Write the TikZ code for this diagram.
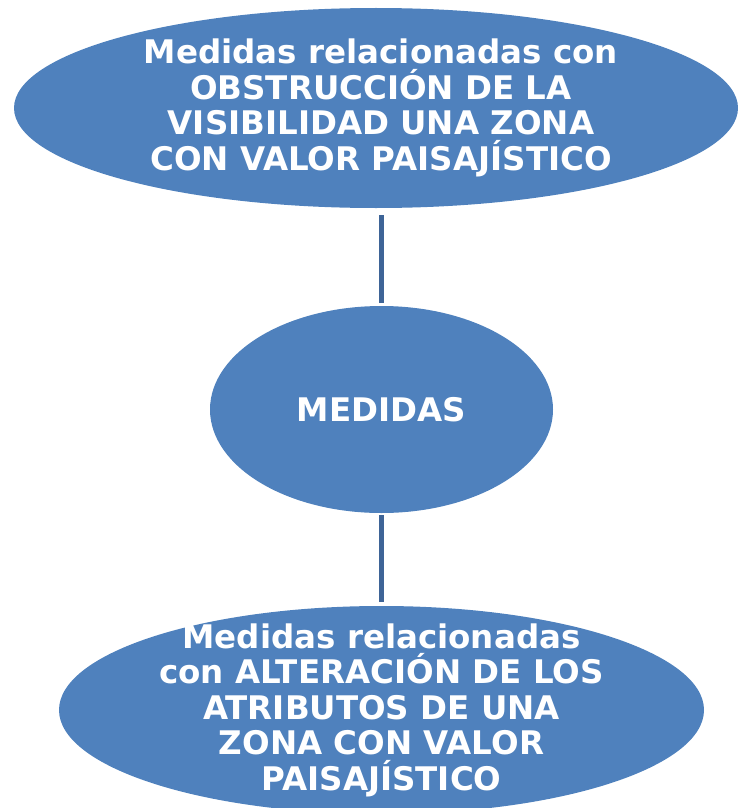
\documentclass[tikz,border=0pt]{standalone}
\usepackage{fontspec}
\setmainfont{DejaVu Sans}
\usetikzlibrary{shapes.geometric}
\definecolor{ovalfill}{HTML}{4F81BD}
\definecolor{linkcol}{HTML}{3E6497}
\tikzset{
  oval/.style={ellipse, fill=ovalfill, draw=none, inner sep=0pt},
  ovaltext/.style={text=white, align=center, font=\bfseries\fontsize{32.5}{35.5}\selectfont, inner sep=0pt},
  link/.style={draw=linkcol, line width=5pt}
}
\begin{document}
\begin{tikzpicture}[x=1pt,y=1pt]
\useasboundingbox (0,0) rectangle (737,-808);
\node[oval, minimum width=724pt, minimum height=200pt] (top) at (376,-108) {};
\node[oval, minimum width=343pt, minimum height=207pt] (mid) at (381.5,-409.5) {};
\node[oval, minimum width=645pt, minimum height=208pt] (bot) at (381.5,-710) {};
\node[ovaltext] (toptext) at (381,-108) {Medidas relacionadas con\\OBSTRUCCIÓN DE LA\\VISIBILIDAD UNA ZONA\\CON VALOR PAISAJÍSTICO};
\node[ovaltext] (midtext) at (mid.center) {MEDIDAS};
\node[ovaltext] (bottext) at (bot.center) {Medidas relacionadas\\con ALTERACIÓN DE LOS\\ATRIBUTOS DE UNA\\ZONA CON VALOR\\PAISAJÍSTICO};
\coordinate (a1) at (381,-215);
\coordinate (a2) at (381,-303);
\coordinate (b1) at (381,-515);
\coordinate (b2) at (381,-602);
\draw[link] (a1) -- (a2);
\draw[link] (b1) -- (b2);
\end{tikzpicture}
\end{document}
